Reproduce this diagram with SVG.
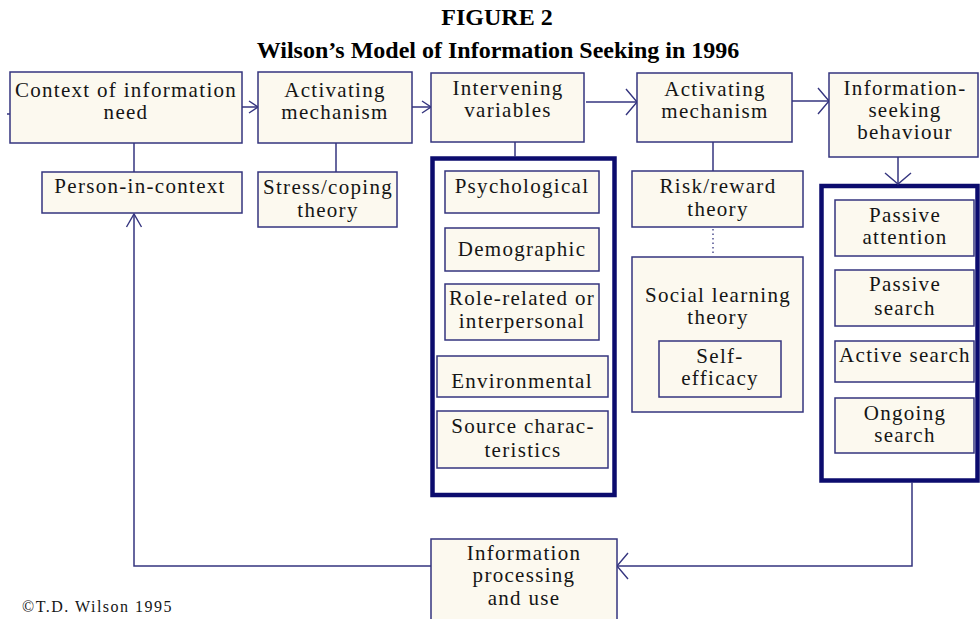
<svg xmlns="http://www.w3.org/2000/svg" width="980" height="619" viewBox="0 0 980 619">
  <style>
    .box { fill: #fcf9ef; stroke: #35357f; stroke-width: 1.5; }
    .frame { fill: #ffffff; stroke: #0c0c6e; stroke-width: 4.5; }
    .t { font-family: "Liberation Serif", "Times New Roman", serif; font-size: 21px; letter-spacing: 1.3px; fill: #151515; text-anchor: middle; }
    .title { font-family: "Liberation Serif", "Times New Roman", serif; font-size: 24px; font-weight: bold; fill: #000; text-anchor: middle; }
    .copy { font-family: "Liberation Serif", "Times New Roman", serif; font-size: 16px; letter-spacing: 1.5px; fill: #151515; }
    .line { fill: none; stroke: #35357f; stroke-width: 1.5; }
    .dots { fill: none; stroke: #35357f; stroke-width: 1.3; stroke-dasharray: 1.5 3; }
  </style>
  <defs>
    <marker id="chev-s" markerUnits="userSpaceOnUse" viewBox="-14 -10 16 20" markerWidth="16" markerHeight="20" refX="0" refY="0" orient="auto">
      <path d="M-9,-6 L0,0 L-9,6" fill="none" stroke="#35357f" stroke-width="1.4"/>
    </marker>
    <marker id="chev-m" markerUnits="userSpaceOnUse" viewBox="-16 -12 18 24" markerWidth="18" markerHeight="24" refX="0" refY="0" orient="auto">
      <path d="M-13,-7.5 L0,0 L-13,7.5" fill="none" stroke="#35357f" stroke-width="1.4"/>
    </marker>
    <marker id="chev-l" markerUnits="userSpaceOnUse" viewBox="-18 -16 20 32" markerWidth="20" markerHeight="32" refX="0" refY="0" orient="auto">
      <path d="M-11,-13 L0,0 L-11,13" fill="none" stroke="#35357f" stroke-width="1.4"/>
    </marker>
  </defs>

  <rect width="980" height="619" fill="#ffffff"/>

  <!-- heading -->
  <text class="title" x="497" y="25">FIGURE 2</text>
  <text class="title" x="498" y="58">Wilson’s Model of Information Seeking in 1996</text>

  <!-- grouping frames -->
  <g id="frame-intervening">
    <rect class="frame" x="432.5" y="158.5" width="182" height="336.5"/>
  </g>
  <g id="frame-behaviour">
    <rect class="frame" x="821.5" y="186" width="156" height="294.5"/>
  </g>

  <!-- connectors -->
  <g id="connectors">
    <line class="line" x1="7" y1="114" x2="10" y2="114"/>
    <line class="line" x1="134" y1="143" x2="134" y2="172"/>
    <line class="line" x1="336" y1="143" x2="336" y2="172"/>
    <line class="line" x1="515" y1="142" x2="515" y2="157"/>
    <line class="line" x1="713" y1="142" x2="713" y2="171"/>
    <line class="dots" x1="713" y1="229" x2="713" y2="256"/>
    <line class="line" x1="242" y1="107" x2="258" y2="107" marker-end="url(#chev-s)"/>
    <line class="line" x1="412" y1="107" x2="431" y2="107" marker-end="url(#chev-s)"/>
    <line class="line" x1="586" y1="102" x2="637" y2="102" marker-end="url(#chev-l)"/>
    <line class="line" x1="792" y1="101" x2="829" y2="101" marker-end="url(#chev-l)"/>
    <line class="line" x1="898" y1="157" x2="898" y2="184" marker-end="url(#chev-l)"/>
    <polyline class="line" points="912,482 912,566 617,566" marker-end="url(#chev-l)"/>
    <polyline class="line" points="431,566 134,566 134,214" marker-end="url(#chev-m)"/>
  </g>

  <!-- main chain -->
  <g id="context-need">
    <rect class="box" x="10" y="72" width="232" height="71"/>
    <text class="t" x="126" y="97">Context of information</text>
    <text class="t" x="126" y="119">need</text>
  </g>
  <g id="activating-1">
    <rect class="box" x="258" y="72" width="154" height="71"/>
    <text class="t" x="335" y="97">Activating</text>
    <text class="t" x="335" y="119">mechanism</text>
  </g>
  <g id="intervening">
    <rect class="box" x="431" y="73" width="153" height="69"/>
    <text class="t" x="508" y="95">Intervening</text>
    <text class="t" x="508" y="117">variables</text>
  </g>
  <g id="activating-2">
    <rect class="box" x="637" y="73" width="155" height="69"/>
    <text class="t" x="715" y="96">Activating</text>
    <text class="t" x="715" y="118">mechanism</text>
  </g>
  <g id="seeking-behaviour">
    <rect class="box" x="829" y="73" width="149" height="84"/>
    <text class="t" x="905" y="95">Information-</text>
    <text class="t" x="905" y="117">seeking</text>
    <text class="t" x="905" y="139">behaviour</text>
  </g>

  <!-- second row -->
  <g id="person-in-context">
    <rect class="box" x="42" y="172" width="200" height="41"/>
    <text class="t" x="140" y="193">Person-in-context</text>
  </g>
  <g id="stress-coping">
    <rect class="box" x="258" y="172" width="139" height="55"/>
    <text class="t" x="328" y="194">Stress/coping</text>
    <text class="t" x="328" y="217">theory</text>
  </g>

  <!-- intervening variables -->
  <g id="psychological">
    <rect class="box" x="445" y="171" width="154" height="42"/>
    <text class="t" x="522" y="193">Psychological</text>
  </g>
  <g id="demographic">
    <rect class="box" x="445" y="228" width="154" height="43"/>
    <text class="t" x="522" y="256">Demographic</text>
  </g>
  <g id="role-related">
    <rect class="box" x="445" y="284" width="154" height="56"/>
    <text class="t" x="522" y="305">Role-related or</text>
    <text class="t" x="522" y="328">interpersonal</text>
  </g>
  <g id="environmental">
    <rect class="box" x="437" y="356" width="171" height="41"/>
    <text class="t" x="522" y="388">Environmental</text>
  </g>
  <g id="source-characteristics">
    <rect class="box" x="437" y="411" width="171" height="57"/>
    <text class="t" x="523" y="433">Source charac-</text>
    <text class="t" x="523" y="457">teristics</text>
  </g>

  <!-- activating mechanism theories -->
  <g id="risk-reward">
    <rect class="box" x="632" y="171" width="171" height="56"/>
    <text class="t" x="718" y="193">Risk/reward</text>
    <text class="t" x="718" y="216">theory</text>
  </g>
  <g id="social-learning">
    <rect class="box" x="632" y="257" width="171" height="155"/>
    <text class="t" x="718" y="302">Social learning</text>
    <text class="t" x="718" y="324">theory</text>
  </g>
  <g id="self-efficacy">
    <rect class="box" x="659" y="341" width="122" height="56"/>
    <text class="t" x="720" y="363">Self-</text>
    <text class="t" x="720" y="385">efficacy</text>
  </g>

  <!-- search modes -->
  <g id="passive-attention">
    <rect class="box" x="835" y="200" width="139" height="56"/>
    <text class="t" x="905" y="222">Passive</text>
    <text class="t" x="905" y="244">attention</text>
  </g>
  <g id="passive-search">
    <rect class="box" x="835" y="270" width="139" height="56"/>
    <text class="t" x="905" y="291">Passive</text>
    <text class="t" x="905" y="315">search</text>
  </g>
  <g id="active-search">
    <rect class="box" x="835" y="341" width="139" height="41"/>
    <text class="t" x="905" y="362">Active search</text>
  </g>
  <g id="ongoing-search">
    <rect class="box" x="835" y="398" width="139" height="55"/>
    <text class="t" x="905" y="420">Ongoing</text>
    <text class="t" x="905" y="442">search</text>
  </g>

  <!-- feedback node -->
  <g id="information-processing">
    <rect class="box" x="431" y="539" width="186" height="90"/>
    <text class="t" x="524" y="560">Information</text>
    <text class="t" x="524" y="582">processing</text>
    <text class="t" x="524" y="605">and use</text>
  </g>

  <text class="copy" x="22" y="612">©T.D. Wilson 1995</text>
</svg>
